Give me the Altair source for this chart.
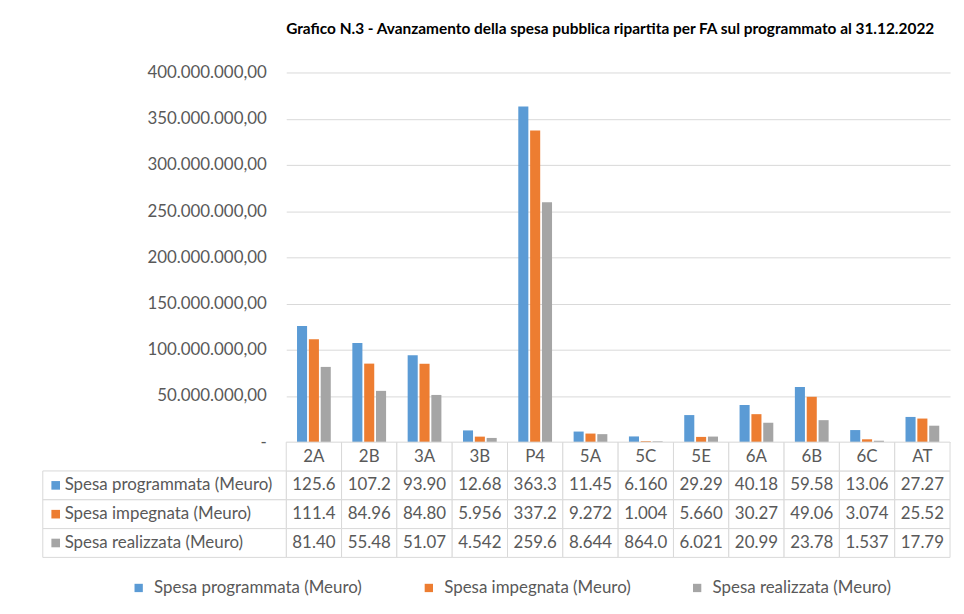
import altair as alt
import pandas as pd

categories = ["2A", "2B", "3A", "3B", "P4", "5A", "5C", "5E", "6A", "6B", "6C", "AT"]
series = ["Spesa programmata (Meuro)", "Spesa impegnata (Meuro)", "Spesa realizzata (Meuro)"]
colors = ["#5B9BD5", "#ED7D31", "#A5A5A5"]

# values in millions of euro
programmata = [125.6, 107.2, 93.90, 12.68, 363.3, 11.45, 6.160, 29.29, 40.18, 59.58, 13.06, 27.27]
impegnata = [111.4, 84.96, 84.80, 5.956, 337.2, 9.272, 1.004, 5.660, 30.27, 49.06, 3.074, 25.52]
realizzata = [81.40, 55.48, 51.07, 4.542, 259.6, 8.644, 0.864, 6.021, 20.99, 23.78, 1.537, 17.79]

title_text = "Grafico N.3 - Avanzamento della spesa pubblica ripartita per FA sul programmato al 31.12.2022"
y_ticks = [0, 50e6, 100e6, 150e6, 200e6, 250e6, 300e6, 350e6, 400e6]
HDR = "hdr"
rows = [HDR] + series


def fmt(v):
    if v < 1:
        return f"{v * 1000:#.4g}"
    return f"{v:#.4g}"


recs = []
for s, vals in zip(series, [programmata, impegnata, realizzata]):
    for c, v in zip(categories, vals):
        recs.append({"category": c, "series": s, "value": v * 1e6, "label": fmt(v), "row": s})
df = pd.DataFrame(recs)
hdr_df = pd.DataFrame({"category": categories, "row": [HDR] * len(categories), "label": categories})
cells_df = pd.concat([df[["category", "row", "label"]], hdr_df], ignore_index=True)
left_df = pd.DataFrame({"row": series, "series": series})

FONT = "Lato"
GRAY = "#595959"
LINE = "#d9d9d9"
FS = 17

color_scale = alt.Scale(domain=series, range=colors)

label_expr = ("datum.value == 0 ? '-\u00a0\u00a0\u00a0' : replace(replace(replace(format(datum.value, ',.2f'), "
              "regexp(',', 'g'), '#'), '.', ','), regexp('#', 'g'), '.')")

bars = alt.Chart(df).mark_bar().encode(
    x=alt.X("category:N", sort=categories, axis=None,
            scale=alt.Scale(paddingInner=0.39, paddingOuter=0.195)),
    xOffset=alt.XOffset("series:N", sort=series, scale=alt.Scale(paddingInner=0.15)),
    y=alt.Y("value:Q", scale=alt.Scale(domain=[0, 400e6]),
            axis=alt.Axis(values=y_ticks, labelExpr=label_expr, title=None, domain=False,
                          ticks=False, gridColor=LINE, labelPadding=20, labelFont=FONT,
                          labelFontSize=FS, labelColor=GRAY)),
    color=alt.Color("series:N", sort=series, scale=color_scale,
                    legend=alt.Legend(orient="none", legendX=-157, legendY=510,
                                      direction="horizontal", title=None,
                                      symbolType="square", symbolSize=70, symbolStrokeWidth=0,
                                      labelFont=FONT, labelFontSize=FS, labelColor=GRAY,
                                      labelLimit=0, labelOffset=7, columnPadding=58)),
).properties(
    width=668, height=372,
    title=alt.TitleParams(title_text, font=FONT, fontSize=15.5, fontWeight="bold", color="#000000",
                          anchor="middle", frame="group", offset=26, dx=-8),
)

xs = alt.X("category:N", sort=categories, axis=None, scale=alt.Scale(paddingInner=0, paddingOuter=0))
ys = alt.Y("row:N", sort=rows, axis=None, scale=alt.Scale(domain=rows, paddingInner=0, paddingOuter=0))

cell_rects = alt.Chart(cells_df).mark_rect(fill="white", stroke=LINE, strokeWidth=1).encode(x=xs, y=ys)
cell_text = alt.Chart(cells_df).mark_text(font=FONT, fontSize=FS, color=GRAY).encode(
    x=xs, y=ys, text="label:N")
left_rects = alt.Chart(left_df).mark_rect(fill="white", stroke=LINE, strokeWidth=1).encode(
    x=alt.value(-245), x2=alt.value(0), y=ys)
left_text = alt.Chart(left_df).mark_text(font=FONT, fontSize=FS, color=GRAY, align="left").encode(
    x=alt.value(-223), y=ys, text="series:N")
left_sq = alt.Chart(left_df).mark_point(shape="square", filled=True, size=75, opacity=1).encode(
    x=alt.value(-232), y=ys, color=alt.Color("series:N", scale=color_scale, legend=None))

table = alt.layer(cell_rects, left_rects, cell_text, left_text, left_sq).properties(width=668, height=116)

chart = alt.vconcat(bars, table, spacing=0, bounds="flush").resolve_scale(
    x="independent", y="independent", color="shared"
).properties(
    padding={"left": 34, "top": 12, "right": 5, "bottom": 5},
    background="white",
).configure_view(stroke="transparent")

chart.save("out.html", embed_options={"renderer": "svg", "actions": False})
